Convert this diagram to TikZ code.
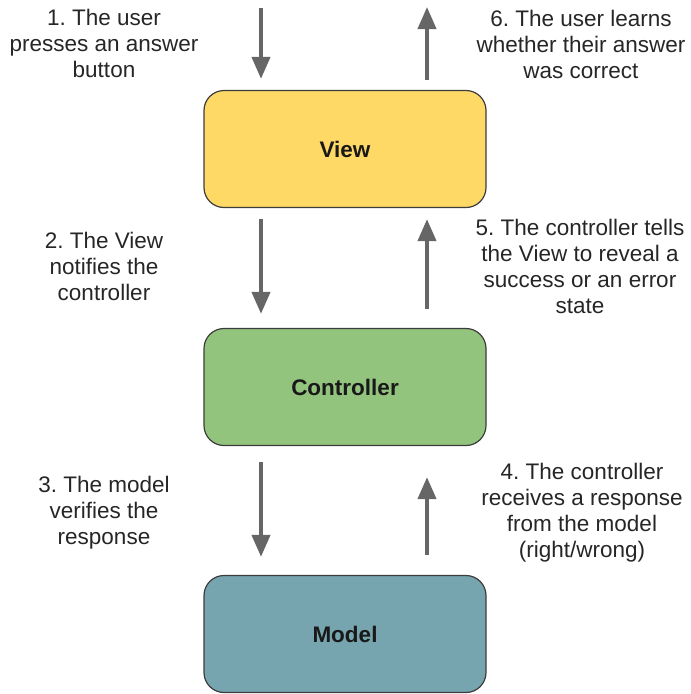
\documentclass[tikz,border=0pt]{standalone}
\usepackage{fontspec}
\setmainfont{Liberation Sans}
\usepackage{tikz}
\usetikzlibrary{arrows.meta}
\definecolor{viewyellow}{HTML}{FFD966}
\definecolor{ctrlgreen}{HTML}{93C47D}
\definecolor{modelblue}{HTML}{76A5AF}
\definecolor{arrowgray}{HTML}{666666}
\definecolor{boxline}{HTML}{3C3C3C}
\frenchspacing

\begin{document}
\begin{tikzpicture}[
    x=1pt, y=-1pt,
    mvcbox/.style={rectangle, rounded corners=20pt, draw=boxline, line width=1.2pt, minimum width=282pt, minimum height=117pt, font=\fontsize{22.5}{26}\selectfont\bfseries, text=black!90},
    steptext/.style={align=center, anchor=base, inner sep=0pt, font=\fontsize{22.5}{26}\selectfont, text=black!85},
    flow/.style={draw=arrowgray, line width=4pt, -{Triangle[width=18pt,length=22pt]}}
]
\useasboundingbox (0,0) rectangle (691,694);

% Boxes
\node[mvcbox, fill=viewyellow] (view)  at (345, 149) {View};
\node[mvcbox, fill=ctrlgreen]  (ctrl)  at (345, 387) {Controller};
\node[mvcbox, fill=modelblue]  (model) at (345, 634) {Model};

% Lanes and free ends
\coordinate (lane1)   at (261, 0);
\coordinate (lane2)   at (427, 0);
\coordinate (userin)  at (261, 8);
\coordinate (userout) at (427, 7);

% Arrows
\draw[flow, shorten >=11pt] (userin) -- (view.north -| userin);
\draw[flow, shorten <=10pt] (view.north -| userout) -- (userout);
\draw[flow, shorten <=11pt, shorten >=14pt] (view.south -| lane1) -- (ctrl.north -| lane1);
\draw[flow, shorten <=19pt, shorten >=11pt] (ctrl.north -| lane2) -- (view.south -| lane2);
\draw[flow, shorten <=16pt, shorten >=18pt] (ctrl.south -| lane1) -- (model.north -| lane1);
\draw[flow, shorten <=20pt, shorten >=31pt] (model.north -| lane2) -- (ctrl.south -| lane2);

% Steps (base = last line)
\node[steptext] (step1) at (104, 77)  {1. The user\\presses an answer\\button};
\node[steptext] (step2) at (104, 300) {2. The View\\notifies the\\controller};
\node[steptext] (step3) at (104, 544) {3. The model\\verifies the\\response};
\node[steptext] (step4) at (582, 557) {4. The controller\\receives a response\\from the model\\(right/wrong)};
\node[steptext] (step5) at (580, 313) {5. The controller tells\\the View to reveal a\\success or an error\\state};
\node[steptext] (step6) at (581, 78)  {6. The user learns\\whether their answer\\was correct};

\end{tikzpicture}
\end{document}
